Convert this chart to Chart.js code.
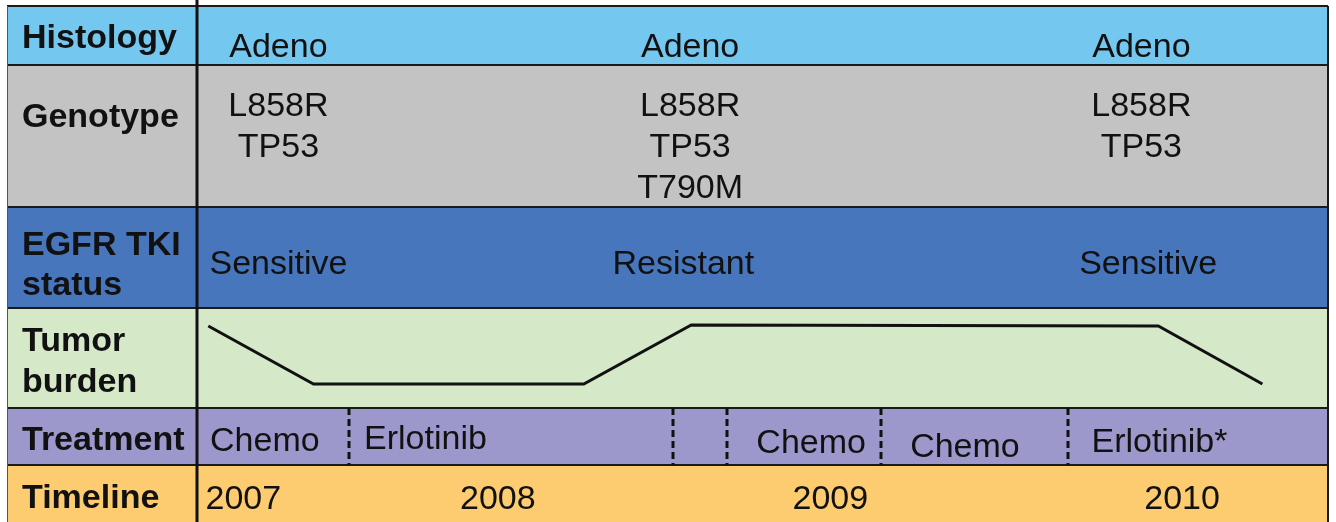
<!DOCTYPE html>
<html>
<head>
<meta charset="utf-8">
<script src="https://cdn.jsdelivr.net/npm/chart.js@4.4.1/dist/chart.umd.min.js"></script>
<style>
  html, body { margin: 0; padding: 0; background: #fff; }
</style>
</head>
<body>
<canvas id="timelineChart" width="1336" height="522"></canvas>
<script>
// x is a schematic position along the course of disease (0 = left edge of the panel, 100 = right edge)
const rowLabels = ['Histology', 'Genotype', ['EGFR TKI', 'status'], ['Tumor', 'burden'], 'Treatment', 'Timeline'];

const biopsyX = [7.2, 43.6, 83.5];
const histology = ['Adeno', 'Adeno', 'Adeno'];
const genotype = [['L858R', 'TP53'], ['L858R', 'TP53', 'T790M'], ['L858R', 'TP53']];

const statusX = [7.2, 43.0, 84.1];
const egfrStatus = ['Sensitive', 'Resistant', 'Sensitive'];

const burdenX = [1.0, 10.3, 34.2, 43.7, 85.0, 94.2];
const burden = [8.2, 2.4, 2.4, 8.3, 8.2, 2.4];

const treatments = ['Chemo', 'Erlotinib', 'Chemo', 'Chemo', 'Erlotinib*'];
const treatmentX = [6.0, 20.2, 54.3, 67.9, 85.1];
const treatmentY = [4.05, 4.45, 3.8, 3.1, 3.9];
const switchX = [13.4, 42.1, 46.9, 60.5, 77.0];

const years = ['2007', '2008', '2009', '2010'];
const yearX = [4.1, 26.6, 56.0, 87.1];

// one stacked y axis per table row
const rowIds = ['histology', 'genotype', 'status', 'tumor', 'treatment', 'timeline'];
const rowColors = ['#74c7ef', '#c3c3c3', '#4876bd', '#d5e8c8', '#9d98cc', '#fdcb70'];
const rowWeights = [59, 142, 101, 100, 57, 57];
const rowLabelAt = [4.4, 6.32, 4.2, 4.55, 4.2, 4.05];

const FONT = "'Liberation Sans', Arial, sans-serif";
const LABEL_W = 175;

const scales = {
    x: { type: 'linear', min: 0, max: 100, display: false }
};
rowIds.forEach((id, i) => {
    scales[id] = {
        type: 'linear',
        position: 'left',
        stack: 'rows',
        stackWeight: rowWeights[i],
        weight: rowIds.length - i, // keeps rows in top-to-bottom order
        min: 0,
        max: 10,
        grid: { display: false },
        border: { display: false },
        afterBuildTicks: s => { s.ticks = [{ value: rowLabelAt[i] }]; },
        afterFit: s => {
            s.width = LABEL_W;
            s.paddingTop = 0;
            s.paddingBottom = 0;
        },
        ticks: {
            crossAlign: 'far',
            color: '#111',
            font: { family: FONT, size: 34, weight: 'bold', lineHeight: 1.2 },
            callback: () => rowLabels[i]
        }
    };
});

function drawText(chart, rowId, x, y, lines) {
    const ctx = chart.ctx;
    const px = chart.scales.x.getPixelForValue(x);
    const py = chart.scales[rowId].getPixelForValue(y);
    [].concat(lines).forEach((t, k) => ctx.fillText(t, px, py + k * 41));
}

const tablePlugin = {
    id: 'table',
    beforeDraw(chart) {
        const { ctx, chartArea } = chart;
        const left = chartArea.left - LABEL_W - 15;
        ctx.save();
        rowIds.forEach((id, i) => {
            const s = chart.scales[id];
            ctx.fillStyle = rowColors[i];
            ctx.fillRect(left, s.top, chartArea.right - left, s.bottom - s.top);
        });
        ctx.strokeStyle = '#1a1a1a';
        ctx.lineWidth = 2;
        rowIds.forEach(id => {
            const y = chart.scales[id].top;
            ctx.beginPath();
            ctx.moveTo(left, y);
            ctx.lineTo(chartArea.right, y);
            ctx.stroke();
        });
        // outer edges
        ctx.beginPath();
        ctx.moveTo(chartArea.right, chartArea.top);
        ctx.lineTo(chartArea.right, chartArea.bottom);
        ctx.stroke();
        ctx.lineWidth = 1;
        ctx.strokeStyle = '#555';
        ctx.beginPath();
        ctx.moveTo(left + 0.5, chartArea.top);
        ctx.lineTo(left + 0.5, chartArea.bottom);
        ctx.stroke();
        // label column divider
        ctx.strokeStyle = '#111';
        ctx.lineWidth = 3;
        ctx.beginPath();
        ctx.moveTo(chartArea.left, 0);
        ctx.lineTo(chartArea.left, chartArea.bottom);
        ctx.stroke();
        ctx.restore();
    },
    afterDatasetsDraw(chart) {
        const ctx = chart.ctx;
        ctx.save();
        // treatment switches
        const tr = chart.scales.treatment;
        ctx.strokeStyle = '#111';
        ctx.lineWidth = 3;
        ctx.setLineDash([7, 4]);
        switchX.forEach(x => {
            const px = Math.round(chart.scales.x.getPixelForValue(x));
            ctx.beginPath();
            ctx.moveTo(px, tr.top);
            ctx.lineTo(px, tr.bottom);
            ctx.stroke();
        });
        ctx.setLineDash([]);

        ctx.fillStyle = '#111';
        ctx.font = '34px ' + FONT;
        ctx.textAlign = 'center';
        ctx.textBaseline = 'middle';
        histology.forEach((t, i) => drawText(chart, 'histology', biopsyX[i], 2.9, t));
        genotype.forEach((t, i) => drawText(chart, 'genotype', biopsyX[i], 7.05, t));
        egfrStatus.forEach((t, i) => drawText(chart, 'status', statusX[i], 4.25, t));
        treatments.forEach((t, i) => drawText(chart, 'treatment', treatmentX[i], treatmentY[i], t));
        years.forEach((t, i) => drawText(chart, 'timeline', yearX[i], 3.85, t));
        ctx.restore();
    }
};

new Chart(document.getElementById('timelineChart').getContext('2d'), {
    type: 'line',
    data: {
        datasets: [{
            label: 'Tumor burden',
            xAxisID: 'x',
            yAxisID: 'tumor',
            data: burdenX.map((x, i) => ({ x: x, y: burden[i] })),
            borderColor: '#111',
            borderWidth: 3,
            pointRadius: 0,
            tension: 0,
            fill: false
        }]
    },
    options: {
        responsive: false,
        animation: false,
        layout: { padding: { top: 6, left: 22, right: 8, bottom: 0 } },
        scales: scales,
        plugins: {
            legend: { display: false },
            tooltip: { enabled: false }
        }
    },
    plugins: [tablePlugin]
});
</script>
</body>
</html>
